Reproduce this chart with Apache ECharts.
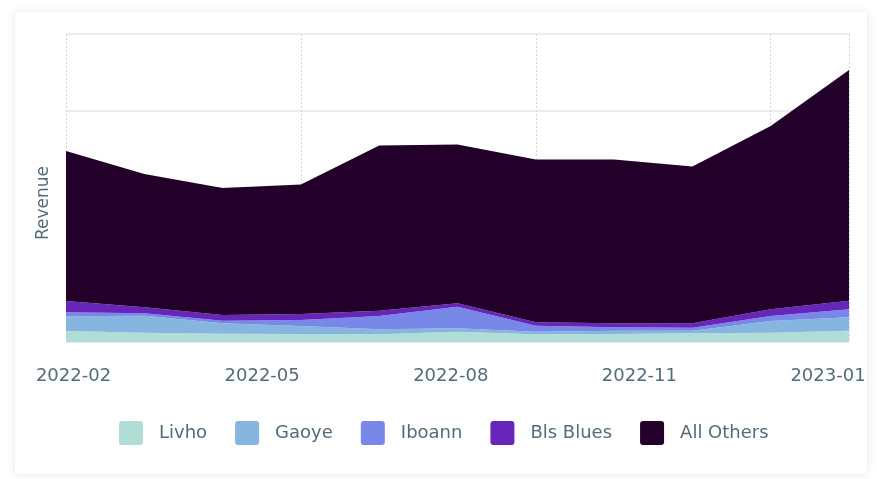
<!DOCTYPE html>
<html>
<head>
<meta charset="utf-8">
<script src="https://cdn.jsdelivr.net/npm/echarts@6/dist/echarts.min.js"></script>
<style>
  html, body { margin: 0; padding: 0; background: #ffffff; }
  #card { position: absolute; left: 15px; top: 12px; width: 852px; height: 462px; background: #fff;
          box-shadow: 0 0 10px rgba(0,0,0,0.10); border-radius: 2px; }
  #chart { position: absolute; left: 0; top: 0; width: 877px; height: 479px; }
</style>
</head>
<body>
<div id="card"></div>
<div id="chart"></div>
<script>
// Data (revenue, thousands)
const periods = ['2022-02-01','2022-03-05','2022-04-06','2022-05-08','2022-06-09','2022-07-11','2022-08-12','2022-09-13','2022-10-15','2022-11-16','2022-12-18'];
const tickLabels = ['2022-02','2022-05','2022-08','2022-11','2023-01'];
const seriesNames = ['Livho','Gaoye','Iboann','Bls Blues','All Others'];
const livho     = [14.3, 12.1, 10.8, 10.4, 10.0, 13.4, 10.0, 10.4, 11.3, 12.1, 14.7];
const gaoye     = [19.1, 22.1, 13.5, 10.4, 6.5, 4.4, 3.4, 4.3, 3.4, 15.2, 17.4];
const iboann    = [5.2, 3.1, 3.4, 7.8, 17.3, 28.1, 7.8, 4.4, 3.9, 6.5, 10.4];
const blsBlues  = [14.7, 7.8, 7.4, 7.8, 6.9, 4.4, 4.4, 5.2, 5.7, 8.7, 11.2];
const allOthers = [194.8, 173.1, 164.9, 168.2, 214.5, 206.2, 211.4, 212.7, 203.6, 238.1, 299.6];

const colors = ['#b0ddd6', '#86b6e0', '#7788e8', '#6726b9', '#22002a'];
const seriesData = [livho, gaoye, iboann, blsBlues, allOthers];
const textColor = '#566b78';
const font = 'DejaVu Sans';
const roundSquare = 'path://M3,0 H21 A3,3 0 0 1 24,3 V21 A3,3 0 0 1 21,24 H3 A3,3 0 0 1 0,21 V3 A3,3 0 0 1 3,0 Z';

const chart = echarts.init(document.getElementById('chart'), null, { renderer: 'canvas' });
chart.setOption({
  animation: false,
  backgroundColor: 'transparent',
  color: colors,
  grid: [
    { left: 66, right: 28, top: 34, bottom: 137 },
    { left: 73.5, right: 49, top: 34, bottom: 126, show: false }
  ],
  legend: {
    left: 119, top: 421, padding: 0,
    itemWidth: 24, itemHeight: 24, itemGap: 28,
    icon: roundSquare,
    data: seriesNames,
    textStyle: { color: textColor, fontSize: 18, fontFamily: font, padding: [0, 0, 0, 11] }
  },
  xAxis: [
    {
      type: 'category', gridIndex: 0, data: periods, boundaryGap: false,
      axisLine: { show: false }, axisTick: { show: false }, axisLabel: { show: false },
      splitLine: {
        show: true,
        interval: function (i) { return i % 3 === 0 || i === periods.length - 1; },
        lineStyle: { color: '#cfd5da', type: [2, 2], width: 1 }
      }
    },
    {
      type: 'value', gridIndex: 1, min: 0, max: tickLabels.length - 1, interval: 1,
      axisLine: { show: false }, axisTick: { show: false }, splitLine: { show: false },
      axisLabel: {
        color: textColor, fontSize: 18, fontFamily: font, margin: 14,
        formatter: function (v) { return tickLabels[Math.round(v)]; }
      }
    }
  ],
  yAxis: [
    {
      type: 'value', gridIndex: 0, min: 0, max: 400, interval: 100,
      name: 'Revenue', nameLocation: 'middle', nameGap: 14,
      nameTextStyle: { color: textColor, fontSize: 17, fontFamily: font, padding: [0, 30, 0, 0] },
      axisLine: { show: false }, axisTick: { show: false }, axisLabel: { show: false },
      splitLine: { show: true, lineStyle: { color: '#e3e7ea', width: 1.5 } }
    },
    {
      type: 'value', gridIndex: 1, min: 0, max: 1, show: false
    }
  ],
  series: seriesNames.map(function (name, i) {
    return {
      name: name, type: 'line', stack: 'total', xAxisIndex: 0, yAxisIndex: 0,
      data: seriesData[i], symbol: 'none', smooth: false,
      lineStyle: { width: 0 },
      areaStyle: { color: colors[i], opacity: 1 },
      itemStyle: { color: colors[i] }
    };
  })
});
</script>
</body>
</html>
